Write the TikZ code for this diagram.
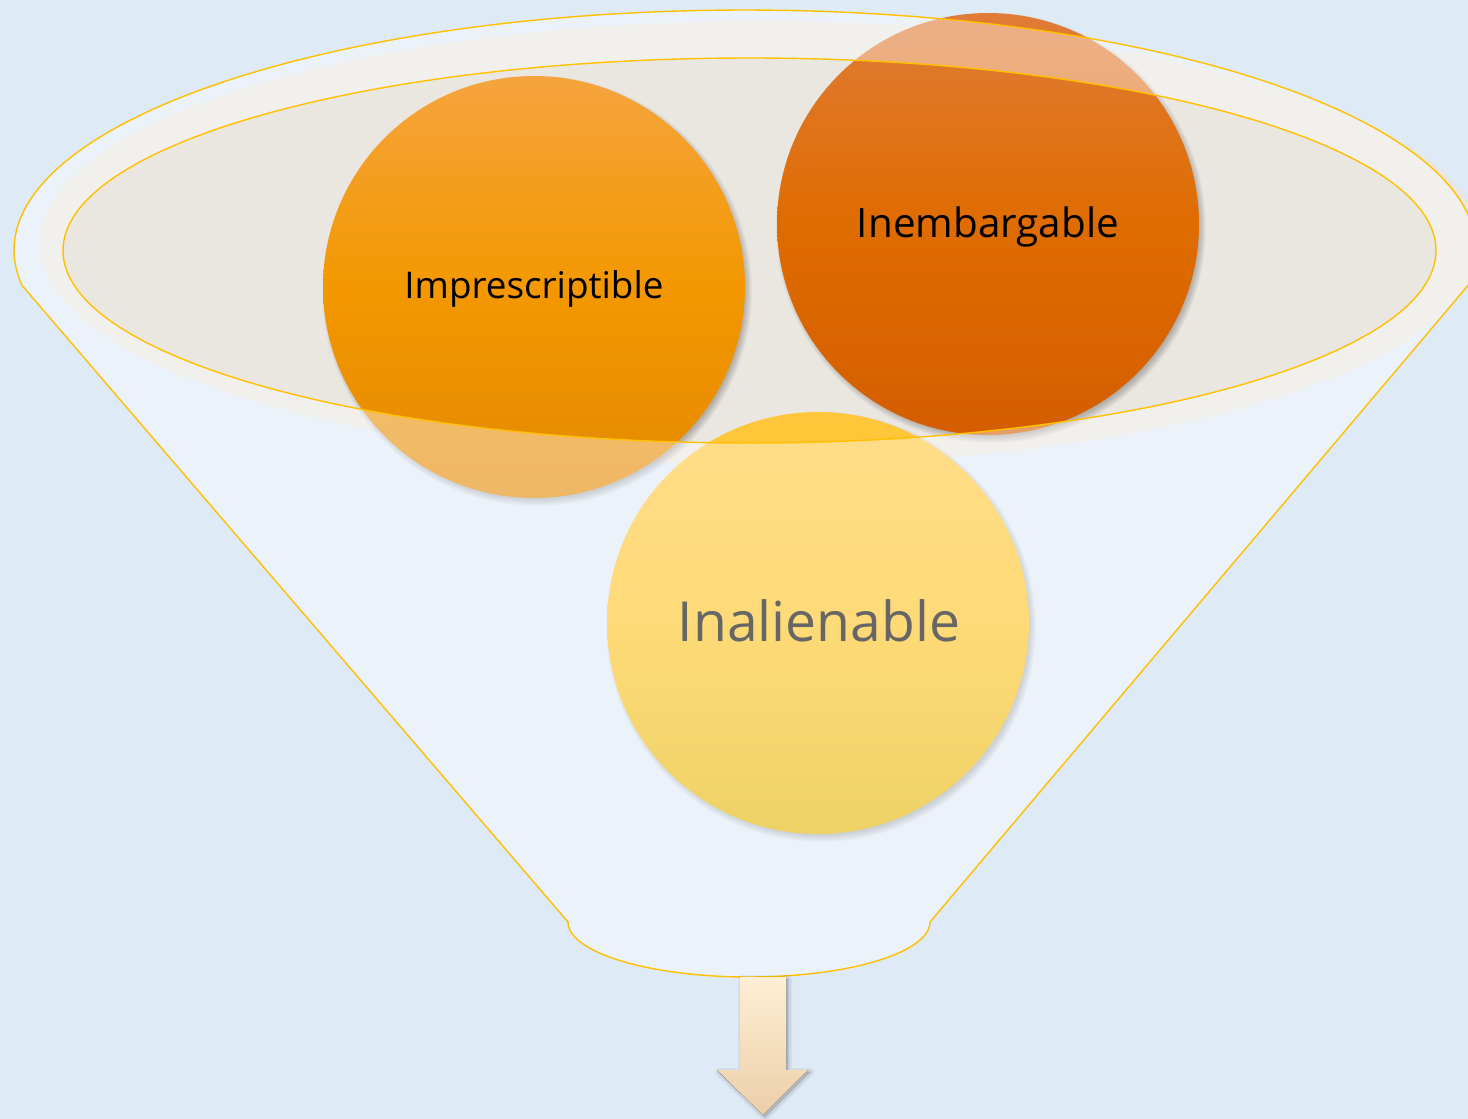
\documentclass[tikz,border=0pt]{standalone}
\usepackage{fontspec}
\setmainfont{Open Sans}
\usepackage{graphicx}
\definecolor{bgblue}{HTML}{DEEAF5}
\definecolor{beige}{HTML}{EAE6E0}
\definecolor{gold}{HTML}{FFC000}
\definecolor{impTop}{HTML}{F5A43E}
\definecolor{impMid}{HTML}{F39800}
\definecolor{impBot}{HTML}{E48800}
\definecolor{inemTop}{HTML}{E07C38}
\definecolor{inemMid}{HTML}{DF6C00}
\definecolor{inemBot}{HTML}{D45E00}
\definecolor{inalTop}{HTML}{FFC63C}
\definecolor{inalMid}{HTML}{FFC21E}
\definecolor{inalBot}{HTML}{E3B500}
\definecolor{arrTop}{HTML}{FFEED5}
\definecolor{arrBot}{HTML}{EBCFA8}
\newcommand\mysoftshadow[3]{%
  \foreach \k in {0,...,7}{\fill[black, opacity=0.03] (#1+3,#2+4) circle[radius=#3-3+\k];}}
\begin{document}
\begin{tikzpicture}[x=1pt,y=-1pt,
  ball/.style={circle, inner sep=0pt, outer sep=0pt, minimum size=422pt},
  goldline/.style={draw=gold, line width=1.4pt},
  label/.style={inner sep=0pt, text=black}]
\useasboundingbox (0,0) rectangle (1468,1119);
\fill[bgblue] (0,0) rectangle (1468,1119);
% beige band ellipse (under circles)
\fill[beige] (760,243) ellipse[x radius=720, y radius=222];
% circles
\mysoftshadow{534}{287}{211}
\node[ball, top color=impTop, bottom color=impBot, middle color=impMid] (impC) at (534,287) {};
\node[label, anchor=base] (impT) at (534,298) {\resizebox{259pt}{!}{Imprescriptible}};
\mysoftshadow{988}{224}{211}
\node[ball, top color=inemTop, bottom color=inemBot, middle color=inemMid] (inemC) at (988,224) {};
\node[label, anchor=base] (inemT) at (988,237) {\resizebox{262pt}{!}{Inembargable}};
\mysoftshadow{818}{623}{211}
\node[ball, top color=inalTop, bottom color=inalBot, middle color=inalMid] (inalC) at (818,623) {};
\node[label, anchor=base] (inalT) at (819,641) {\resizebox{282pt}{!}{Inalienable}};
% translucent funnel body (with hole = inner ellipse)
\fill[white, fill opacity=0.4, even odd rule]
  plot[domain=171.5:368.5, samples=160] ({745+731*cos(\x)},{250+240*sin(\x)})
  -- (930,922)
  -- plot[domain=0:180, samples=80] ({749+181*cos(\x)},{922+55*sin(\x)})
  -- cycle
  (749.5,250.5) ellipse[x radius=686.5, y radius=192.5];
% gold outlines
\draw[goldline, line join=round]
  plot[domain=171.5:368.5, samples=160] ({745+731*cos(\x)},{250+240*sin(\x)})
  -- (930,922)
  -- plot[domain=0:180, samples=80] ({749+181*cos(\x)},{922+55*sin(\x)})
  -- cycle;
\draw[goldline] (749.5,250.5) ellipse[x radius=686.5, y radius=192.5];
% arrow shadow
\foreach \w in {8,5,2}{
  \filldraw[black, opacity=0.045, line width=\w pt, line join=round]
    (742,979) -- (788,979) -- (788,1072) -- (810,1072) -- (765,1117) -- (719,1072) -- (742,1072) -- cycle;}
% arrow
\fill[top color=arrTop, bottom color=arrBot]
  (740,977) -- (786,977) -- (786,1070) -- (808,1070) -- (763,1115) -- (717,1070) -- (740,1070) -- cycle;
\end{tikzpicture}
\end{document}
